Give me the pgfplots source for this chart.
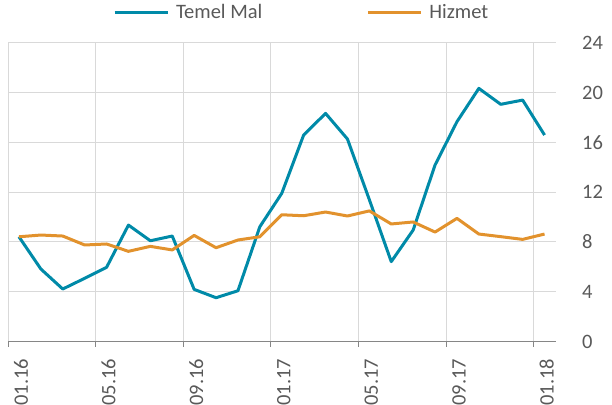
\documentclass[border=0pt]{standalone}
\usepackage{pgfplots}
\pgfplotsset{compat=1.18}
\usepackage{fontspec}
\setmainfont{Carlito}
\definecolor{tblue}{RGB}{0,138,168}
\definecolor{torange}{RGB}{226,146,45}
\definecolor{gridc}{RGB}{217,217,217}
\definecolor{txt}{RGB}{89,89,89}
\definecolor{axc}{RGB}{134,134,134}
\begin{document}
\begin{tikzpicture}
\path[use as bounding box] (0,0) rectangle (612bp,405bp);
\begin{axis}[
 at={(8bp,63.5bp)}, anchor=south west, scale only axis,
 width=547.5bp, height=298.5bp,
 xmin=0, xmax=25, ymin=0, ymax=24,
 axis x line*=bottom, axis y line*=right,
 y axis line style={draw=none},
 x axis line style={draw=axc, line width=0.9bp},
 xtick={0,4,...,24}, xticklabels={01.16,05.16,09.16,01.17,05.17,09.17,01.18},
 ytick={0,4,...,24},
 xmajorgrids, ymajorgrids,
 major grid style={draw=gridc, line width=1bp},
 x tick style={draw=axc, line width=0.9bp}, tick align=outside, major tick length=5bp,
 y tick style={draw=none},
 ticklabel style={font=\fontsize{20.5bp}{24bp}\selectfont, text=txt, inner sep=0pt},
 /pgf/number format/assume math mode=true,
 xticklabel style={xshift=13bp, yshift=-12bp, rotate=90, anchor=east},
 yticklabel style={anchor=west, xshift=21.5bp},
 legend columns=2,
 legend style={at={(0.1918,1.1022)}, anchor=west, draw=none, fill=none, inner sep=0pt, outer sep=0pt,
   font=\fontsize{20.5bp}{24bp}\selectfont, text=txt, nodes={inner sep=0pt},
   /tikz/every odd column/.append style={column sep=7bp},
   /tikz/every even column/.append style={column sep=104bp}},
 legend image code/.code={\draw[#1] (0bp,0bp) -- (53bp,0bp);},
]
\addplot[tblue, line width=3bp, line join=round] coordinates {
(0.5,8.42) (1.5,5.83) (2.5,4.22) (3.5,5.08) (4.5,5.96) (5.5,9.36) (6.5,8.10) (7.5,8.48)
(8.5,4.19) (9.5,3.52) (10.5,4.08) (11.5,9.23) (12.5,11.91) (13.5,16.6) (14.5,18.34) (15.5,16.28)
(16.5,11.4) (17.5,6.42) (18.5,8.96) (19.5,14.19) (20.5,17.67) (21.5,20.35) (22.5,19.07) (23.5,19.41) (24.5,16.6)
};
\addlegendentry{Temel Mal}
\addplot[torange, line width=3bp, line join=round] coordinates {
(0.5,8.42) (1.5,8.56) (2.5,8.48) (3.5,7.76) (4.5,7.84) (5.5,7.25) (6.5,7.65) (7.5,7.36)
(8.5,8.53) (9.5,7.54) (10.5,8.16) (11.5,8.42) (12.5,10.19) (13.5,10.11) (14.5,10.41) (15.5,10.09)
(16.5,10.5) (17.5,9.45) (18.5,9.61) (19.5,8.8) (20.5,9.9) (21.5,8.64) (22.5,8.43) (23.5,8.21) (24.5,8.64)
};
\addlegendentry{Hizmet}
\end{axis}
\end{tikzpicture}
\end{document}
